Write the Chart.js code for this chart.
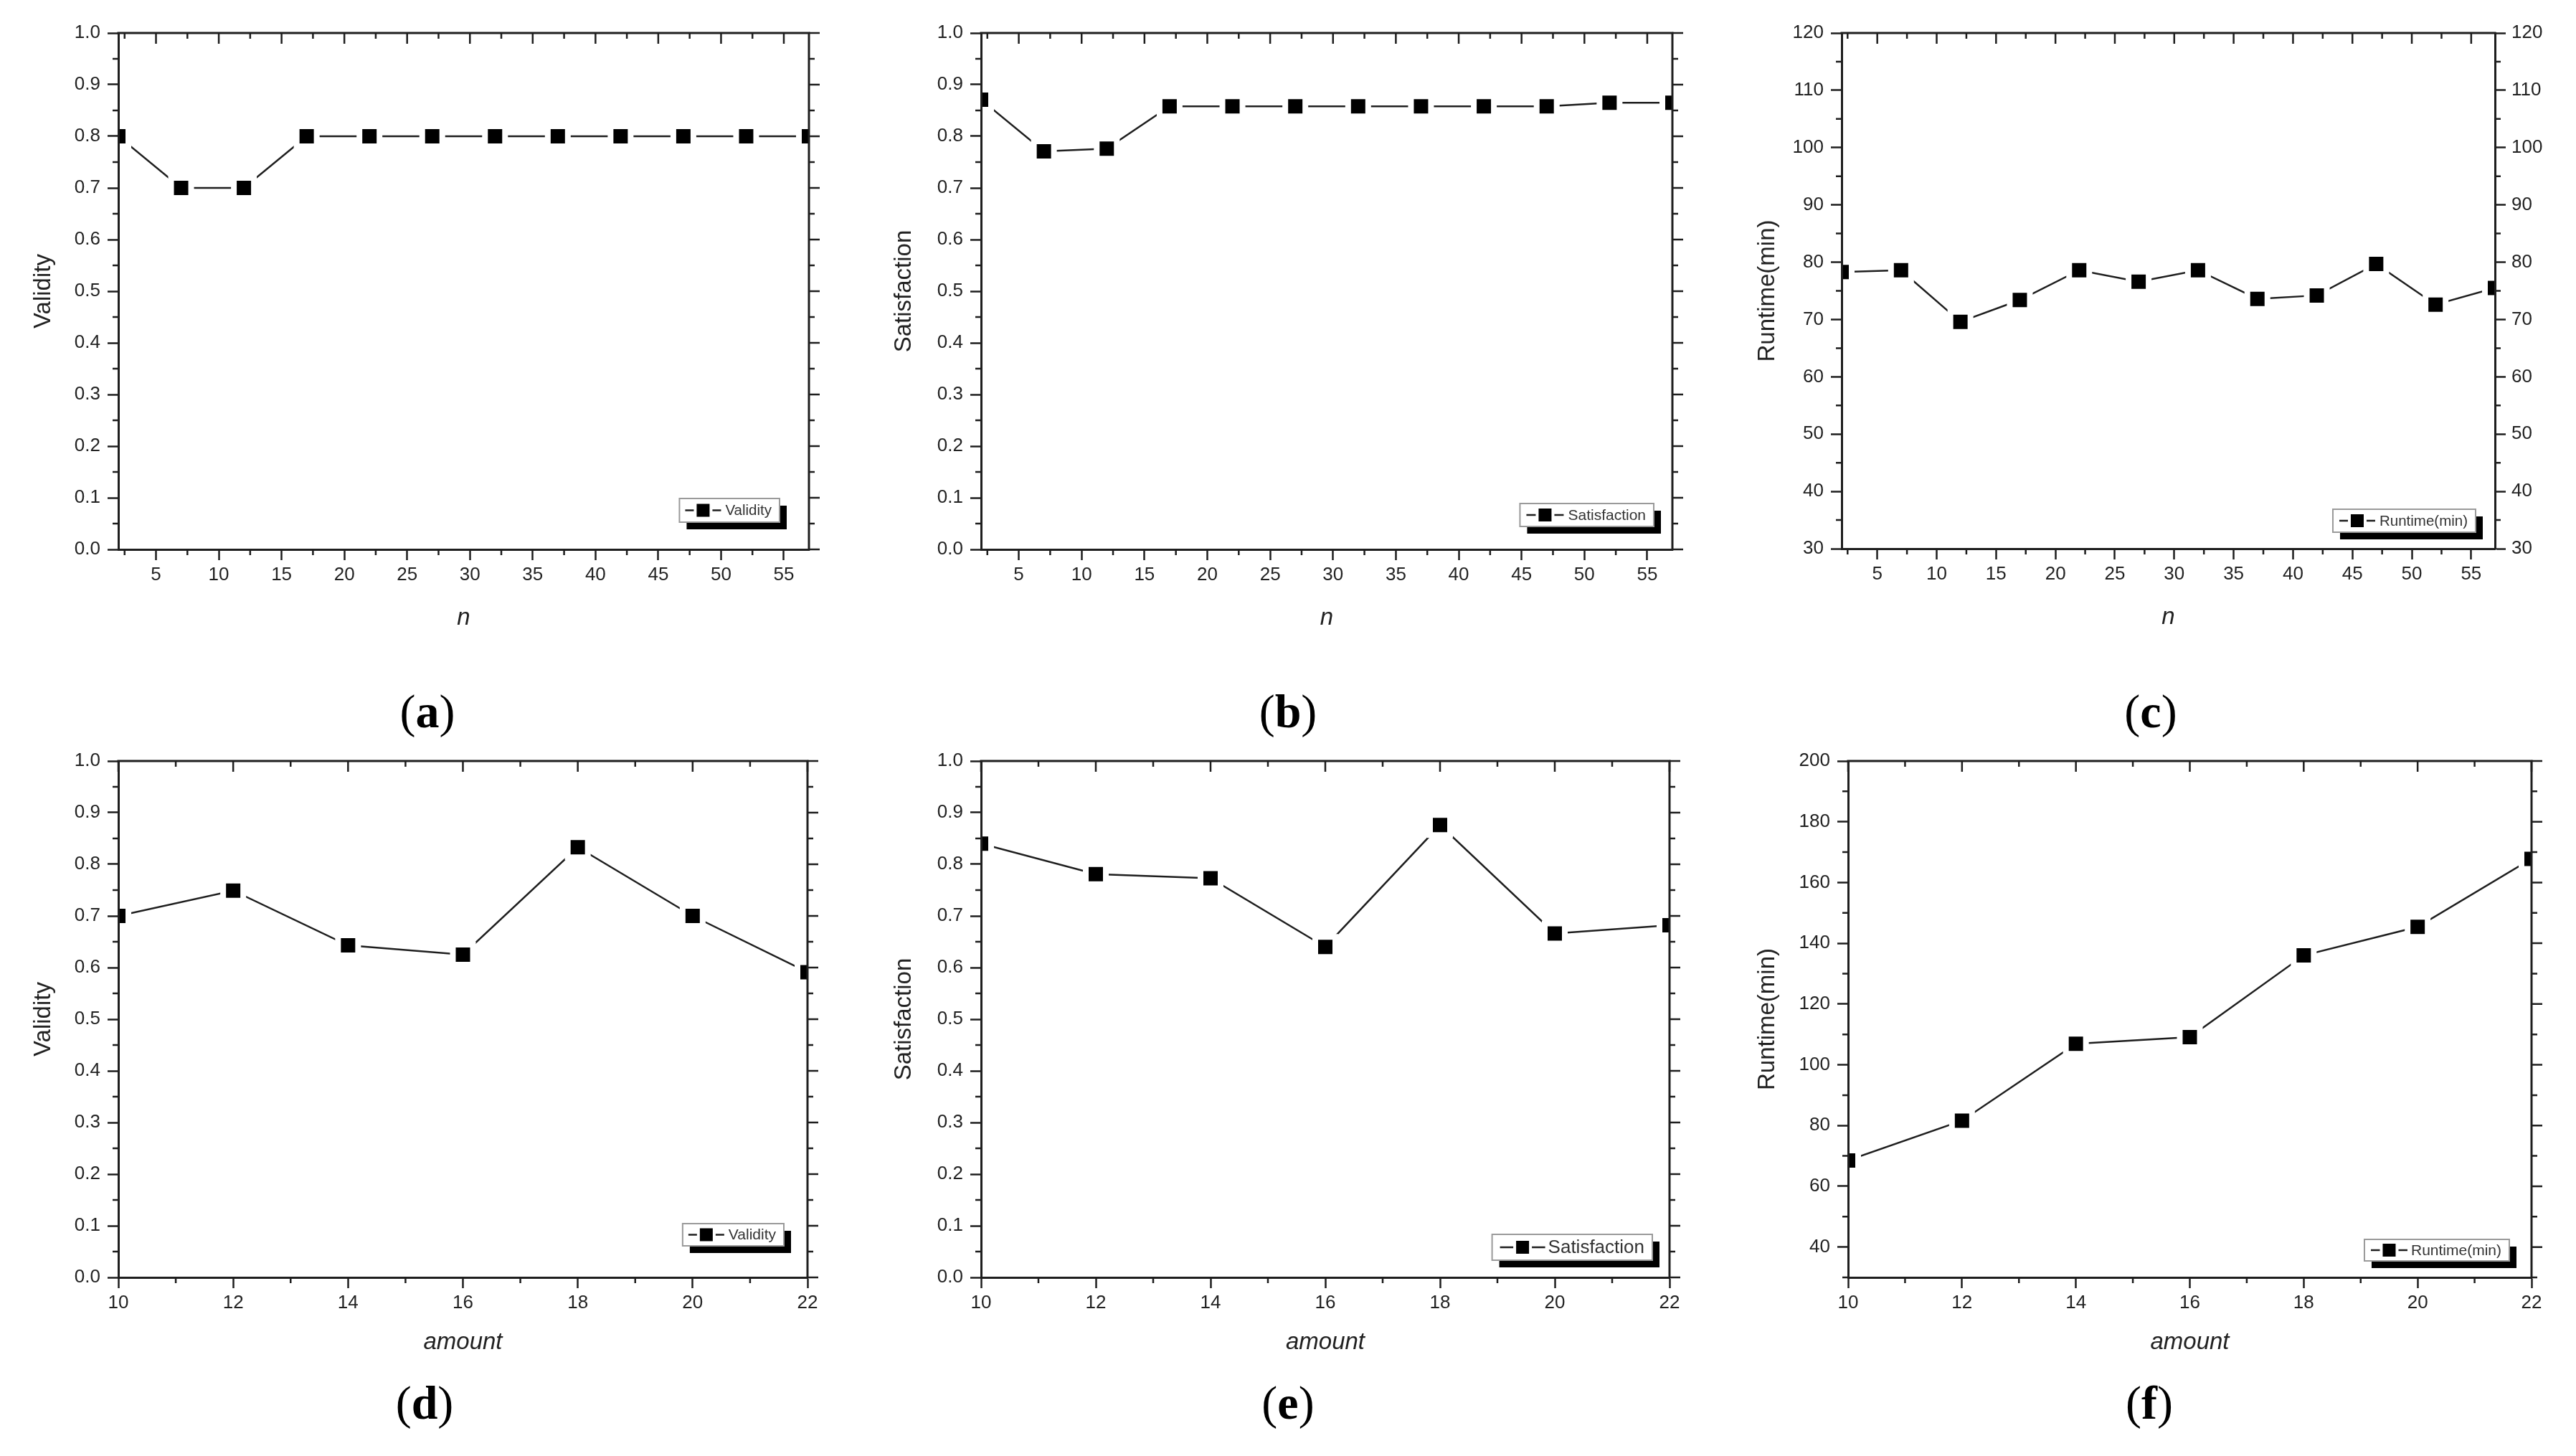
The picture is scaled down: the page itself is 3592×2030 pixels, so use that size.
<!DOCTYPE html>
<html>
<head>
<meta charset="utf-8">
<script src="https://cdn.jsdelivr.net/npm/chart.js@4/dist/chart.umd.min.js"></script>
<style>
html,body{margin:0;padding:0;background:#fff;}
body{width:3592px;height:2030px;overflow:hidden;position:relative;}
canvas{position:absolute;}
.cap{position:absolute;font-family:"Liberation Serif","DejaVu Serif",serif;font-size:66px;color:#000;transform:translate(-50%,-50%);white-space:nowrap;line-height:1;}
.cap b{font-weight:bold;}
</style>
</head>
<body>
<script>
// ---------------- DATA ----------------
const nValues = [2, 7, 12, 17, 22, 27, 32, 37, 42, 47, 52, 57];
const validityN = [0.80, 0.70, 0.70, 0.80, 0.80, 0.80, 0.80, 0.80, 0.80, 0.80, 0.80, 0.80];
const satisfactionN = [0.871, 0.771, 0.776, 0.858, 0.858, 0.858, 0.858, 0.858, 0.858, 0.858, 0.865, 0.865];
const runtimeN = [78.3, 78.6, 69.6, 73.4, 78.6, 76.6, 78.6, 73.6, 74.2, 79.7, 72.6, 75.5];

const amountValues = [10, 12, 14, 16, 18, 20, 22];
const validityAmount = [0.700, 0.749, 0.643, 0.625, 0.833, 0.700, 0.591];
const satisfactionAmount = [0.840, 0.781, 0.773, 0.640, 0.876, 0.666, 0.682];
const runtimeAmount = [68.5, 81.6, 106.9, 109.1, 136.0, 145.4, 167.8];

const nTicks = [5, 10, 15, 20, 25, 30, 35, 40, 45, 50, 55];
const amountTicks = [10, 12, 14, 16, 18, 20, 22];
const ratioTicks = [0.0, 0.1, 0.2, 0.3, 0.4, 0.5, 0.6, 0.7, 0.8, 0.9, 1.0];
const runtimeTicksC = [30, 40, 50, 60, 70, 80, 90, 100, 110, 120];
const runtimeTicksF = [40, 60, 80, 100, 120, 140, 160, 180, 200];

const captionLetters = ['a', 'b', 'c', 'd', 'e', 'f'];

// ---------------- LAYOUT ----------------
const panels = [
  {xs: nValues, ys: validityN, label: 'Validity', xTicks: nTicks, yTicks: ratioTicks, xMin: 2, xMax: 57, yMin: 0, yMax: 1,
   xTitle: 'n', yTitle: 'Validity', L: 165, R: 1128, T: 46, B: 766, yOff: 104, xOff: 96, dec: 1, rightAxis: false,
   leg: {offR: 41, offB: 38, h: 33, font: 20.5, symW: 50, padL: 8, padR: 11, gap: 6}, cap: [596, 997]},
  {xs: nValues, ys: satisfactionN, label: 'Satisfaction', xTicks: nTicks, yTicks: ratioTicks, xMin: 2, xMax: 57, yMin: 0, yMax: 1,
   xTitle: 'n', yTitle: 'Satisfaction', L: 1368, R: 2332, T: 46, B: 766, yOff: 107, xOff: 96, dec: 1, rightAxis: false,
   leg: {offR: 26, offB: 32, h: 32, font: 21, symW: 52, padL: 9, padR: 11, gap: 6}, cap: [1796, 997]},
  {xs: nValues, ys: runtimeN, label: 'Runtime(min)', xTicks: nTicks, yTicks: runtimeTicksC, xMin: 2, xMax: 57, yMin: 30, yMax: 120,
   xTitle: 'n', yTitle: 'Runtime(min)', L: 2568, R: 3479, T: 46, B: 765, yOff: 103, xOff: 96, dec: 0, rightAxis: true,
   leg: {offR: 27, offB: 23, h: 32, font: 20.5, symW: 50, padL: 9, padR: 11, gap: 6}, cap: [2999, 997]},
  {xs: amountValues, ys: validityAmount, label: 'Validity', xTicks: amountTicks, yTicks: ratioTicks, xMin: 10, xMax: 22, yMin: 0, yMax: 1,
   xTitle: 'amount', yTitle: 'Validity', L: 165, R: 1126, T: 1061, B: 1781, yOff: 104, xOff: 91, dec: 1, rightAxis: false,
   leg: {offR: 33, offB: 44, h: 31, font: 21, symW: 50, padL: 8, padR: 11, gap: 6}, cap: [592, 1961]},
  {xs: amountValues, ys: satisfactionAmount, label: 'Satisfaction', xTicks: amountTicks, yTicks: ratioTicks, xMin: 10, xMax: 22, yMin: 0, yMax: 1,
   xTitle: 'amount', yTitle: 'Satisfaction', L: 1368, R: 2328, T: 1061, B: 1781, yOff: 107, xOff: 91, dec: 1, rightAxis: false,
   leg: {offR: 24, offB: 24, h: 36, font: 26, symW: 63, padL: 11, padR: 11, gap: 4}, cap: [1796, 1961]},
  {xs: amountValues, ys: runtimeAmount, label: 'Runtime(min)', xTicks: amountTicks, yTicks: runtimeTicksF, xMin: 10, xMax: 22, yMin: 30, yMax: 200,
   xTitle: 'amount', yTitle: 'Runtime(min)', L: 2577, R: 3530, T: 1061, B: 1781, yOff: 112, xOff: 91, dec: 0, rightAxis: false,
   leg: {offR: 31, offB: 23, h: 30, font: 21, symW: 51, padL: 9, padR: 11, gap: 5}, cap: [2997, 1961]}
];

const FONT = '"Liberation Sans", Arial, Helvetica, sans-serif';
const INK = '#1e1e1e';
const MAJ = 15, MIN = 8, AXW = 3;

function minorOf(major, lo, hi) {
  const step = major[1] - major[0];
  const c = [major[0] - step / 2].concat(major.map(v => v + step / 2));
  return c.filter(v => v >= lo - 1e-9 && v <= hi + 1e-9);
}

const frameTicks = {
  id: 'frameTicks',
  afterDraw(chart, args, o) {
    const {ctx, chartArea: {left, right, top, bottom}} = chart;
    const xs = chart.scales.x, ys = chart.scales.y;
    ctx.save();
    ctx.strokeStyle = INK;
    ctx.lineCap = 'butt';
    ctx.lineWidth = AXW;
    ctx.beginPath();
    ctx.moveTo(left - AXW / 2, top); ctx.lineTo(right + AXW / 2, top);
    if (!o.rightAxis) { ctx.moveTo(right, top); ctx.lineTo(right, bottom + AXW / 2); }
    ctx.stroke();
    ctx.lineWidth = 2.5;
    ctx.beginPath();
    const seg = (x1, y1, x2, y2) => { ctx.moveTo(x1, y1); ctx.lineTo(x2, y2); };
    o.xMajor.forEach(v => { const p = xs.getPixelForValue(v); seg(p, top, p, top + MAJ); });
    o.xMinor.forEach(v => { const p = xs.getPixelForValue(v); seg(p, top, p, top + MIN); seg(p, bottom, p, bottom + MIN); });
    if (!o.rightAxis) o.yMajor.forEach(v => { const p = ys.getPixelForValue(v); seg(right, p, right + MAJ, p); });
    o.yMinor.forEach(v => { const p = ys.getPixelForValue(v); seg(left, p, left - MIN, p); seg(right, p, right + MIN, p); });
    ctx.stroke();
    ctx.restore();
  }
};

const boxLegend = {
  id: 'boxLegend',
  afterDraw(chart, args, o) {
    const ds = chart.data.datasets[0];
    const {ctx, chartArea: {right, bottom}} = chart;
    ctx.save();
    ctx.font = o.font + 'px ' + FONT;
    const tw = ctx.measureText(ds.label).width;
    const w = o.padL + o.symW + o.gap + tw + o.padR, h = o.h;
    const x = right - o.offR - w, y = bottom - o.offB - h;
    ctx.fillStyle = '#000';
    ctx.fillRect(x + 10, y + 10, w, h);
    ctx.fillStyle = '#fff';
    ctx.fillRect(x, y, w, h);
    ctx.strokeStyle = '#9a9a9a';
    ctx.lineWidth = 2;
    ctx.strokeRect(x, y, w, h);
    const cy = y + h / 2, sx = x + o.padL, cx = sx + o.symW / 2, sq = 18;
    ctx.strokeStyle = INK; ctx.lineWidth = 2.5;
    ctx.beginPath(); ctx.moveTo(sx, cy); ctx.lineTo(sx + o.symW, cy); ctx.stroke();
    ctx.fillStyle = '#fff';
    ctx.fillRect(cx - sq / 2 - 4, cy - sq / 2 - 4, sq + 8, sq + 8);
    ctx.fillStyle = '#000';
    ctx.fillRect(cx - sq / 2, cy - sq / 2, sq, sq);
    ctx.fillStyle = '#333';
    ctx.textBaseline = 'middle';
    ctx.textAlign = 'left';
    ctx.fillText(ds.label, sx + o.symW + o.gap, cy + 1);
    ctx.restore();
  }
};

panels.forEach((p, i) => {
  const padL = 30, padT = 30, padR = 110, padB = 10, rW = 80;
  const yW = p.yOff + 20, xH = p.xOff + 20;
  const cw = (p.R - p.L) + yW + padL + padR;
  const ch = (p.B - p.T) + padT + xH + padB;
  const cv = document.createElement('canvas');
  cv.width = cw; cv.height = ch;
  cv.style.width = cw + 'px'; cv.style.height = ch + 'px';
  cv.style.left = (p.L - yW - padL) + 'px';
  cv.style.top = (p.T - padT) + 'px';
  document.body.appendChild(cv);

  const tickFmt = v => p.dec ? Number(v).toFixed(p.dec) : String(v);
  const yAxisBase = (pos) => ({
    type: 'linear', position: pos, min: p.yMin, max: p.yMax,
    afterBuildTicks: s => { s.ticks = p.yTicks.map(v => ({value: v})); },
    grid: {drawOnChartArea: false, drawTicks: true, tickLength: MAJ, tickWidth: 2.5, tickColor: INK},
    border: {display: true, color: INK, width: AXW, z: 1},
    ticks: {padding: pos === 'left' ? 10 : 8, color: '#222', font: {family: FONT, size: 26}, callback: tickFmt}
  });

  const scales = {
    x: {
      type: 'linear', position: 'bottom', min: p.xMin, max: p.xMax,
      afterBuildTicks: s => { s.ticks = p.xTicks.map(v => ({value: v})); },
      afterFit: s => { s.height = xH; },
      grid: {drawOnChartArea: false, drawTicks: true, tickLength: MAJ, tickWidth: 2.5, tickColor: INK},
      border: {display: true, color: INK, width: AXW, z: 1},
      ticks: {padding: 5, color: '#222', font: {family: FONT, size: 26}, maxRotation: 0, autoSkip: false},
      title: {display: true, text: p.xTitle, color: '#222', padding: 0, font: {family: FONT, size: 33, style: 'italic'}}
    },
    y: Object.assign(yAxisBase('left'), {
      afterFit: s => { s.width = yW; },
      title: {display: true, text: p.yTitle, color: '#222', padding: 0, font: {family: FONT, size: 33}}
    })
  };
  if (p.rightAxis) {
    scales.y2 = Object.assign(yAxisBase('right'), {afterFit: s => { s.width = rW; }});
  }

  new Chart(cv, {
    type: 'line',
    data: {
      datasets: [{
        label: p.label,
        data: p.xs.map((x, k) => ({x: x, y: p.ys[k]})),
        borderColor: INK, borderWidth: 2.5, tension: 0,
        pointStyle: 'rect', pointRadius: 19.8, pointHoverRadius: 19.8,
        pointBackgroundColor: '#000', pointBorderColor: '#fff', pointBorderWidth: 8,
        clip: 0, yAxisID: 'y'
      }]
    },
    options: {
      responsive: false, animation: false, devicePixelRatio: 1, events: [],
      layout: {autoPadding: false, padding: {left: padL, top: padT, right: p.rightAxis ? padR - rW : padR, bottom: padB}},
      scales: scales,
      plugins: {
        legend: {display: false}, tooltip: {enabled: false},
        frameTicks: {rightAxis: p.rightAxis, xMajor: p.xTicks, xMinor: minorOf(p.xTicks, p.xMin, p.xMax),
                     yMajor: p.yTicks, yMinor: minorOf(p.yTicks, p.yMin, p.yMax)},
        boxLegend: p.leg
      }
    },
    plugins: [frameTicks, boxLegend]
  });

  const cap = document.createElement('div');
  cap.className = 'cap';
  cap.style.left = p.cap[0] + 'px';
  cap.style.top = (p.cap[1] - 5) + 'px';
  cap.innerHTML = '(<b>' + captionLetters[i] + '</b>)';
  document.body.appendChild(cap);
});
</script>
</body>
</html>
